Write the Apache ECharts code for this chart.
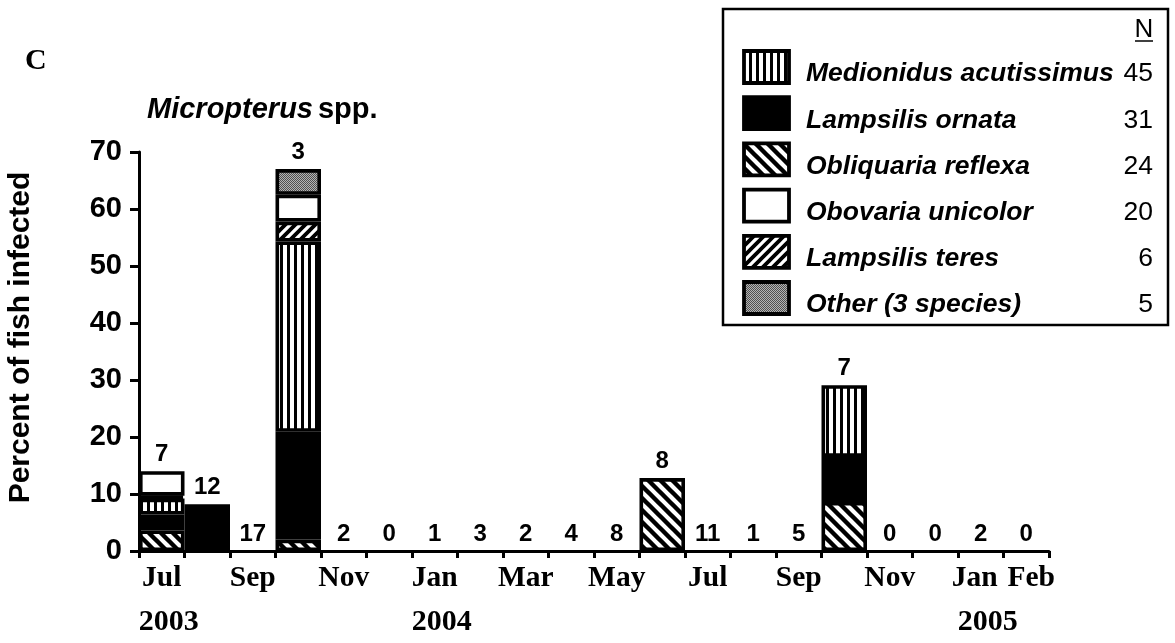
<!DOCTYPE html>
<html><head><meta charset="utf-8">
<script src="https://cdn.jsdelivr.net/npm/echarts@6/dist/echarts.min.js"></script>
<style>html,body{margin:0;padding:0;background:#fff}#c{width:1175px;height:643px}</style>
</head><body><div id="c"></div>
<script>
// ---------- data ----------
const months = ['Jul 2003','Aug 2003','Sep 2003','Oct 2003','Nov 2003','Dec 2003','Jan 2004','Feb 2004','Mar 2004','Apr 2004','May 2004','Jun 2004','Jul 2004','Aug 2004','Sep 2004','Oct 2004','Nov 2004','Dec 2004','Jan 2005','Feb 2005'];
const monthLabels = ['Jul','','Sep','','Nov','','Jan','','Mar','','May','','Jul','','Sep','','Nov','','Jan','Feb'];
const yearLabels = ['2003','','','','','','2004','','','','','','','','','','','','2005',''];
const sampleSize = [7,12,17,3,2,0,1,3,2,4,8,8,11,1,5,7,0,0,2,0];
// percent of fish infected, stacked bottom -> top
const obliquariaReflexa   = [3.6,'-','-',2.0,'-','-','-','-','-','-','-',12.8,'-','-','-',8.6,'-','-','-','-'];
const lampsilisOrnata     = [2.8,8.2,'-',18.9,'-','-','-','-','-','-','-','-','-','-','-',7.9,'-','-','-','-'];
const medionidusAcut      = [2.8,'-','-',33.4,'-','-','-','-','-','-','-','-','-','-','-',12.6,'-','-','-','-'];
const lampsilisTeres      = [0.5,'-','-',3.5,'-','-','-','-','-','-','-','-','-','-','-','-','-','-','-','-'];
const obovariaUnicolor    = [4.3,'-','-',4.7,'-','-','-','-','-','-','-','-','-','-','-','-','-','-','-','-'];
const otherSpecies        = ['-','-','-',4.5,'-','-','-','-','-','-','-','-','-','-','-','-','-','-','-','-'];
const legendNames = ['Medionidus acutissimus','Lampsilis ornata','Obliquaria reflexa','Obovaria unicolor','Lampsilis teres','Other (3 species)'];
const legendN = [45,31,24,20,6,5];

// ---------- patterns ----------
function makePattern(kind){
  if(kind==='solid') return '#000';
  if(kind==='white') return '#fff';
  const c=document.createElement('canvas');
  let s;
  if(kind==='vert'){ c.width=7;c.height=7; const x=c.getContext('2d'); x.fillStyle='#fff';x.fillRect(0,0,7,7); x.fillStyle='#000'; x.fillRect(0,0,3,7); }
  else if(kind==='back'||kind==='fwd'){
    s = kind==='back'?12:10; c.width=s;c.height=s; const x=c.getContext('2d');
    x.fillStyle='#fff';x.fillRect(0,0,s,s); x.strokeStyle='#000'; x.lineWidth= kind==='back'?4.4:3.8;
    x.beginPath();
    for(const o of [-s,0,s]){
      if(kind==='back'){ x.moveTo(o-s,-s); x.lineTo(o+2*s,2*s); }
      else { x.moveTo(o-s,2*s); x.lineTo(o+2*s,-s); }
    }
    x.stroke();
  } else if(kind==='stipple'){
    c.width=2;c.height=2; const x=c.getContext('2d');
    x.fillStyle='#b4b4b4';x.fillRect(0,0,2,2); x.fillStyle='#505050'; x.fillRect(0,0,1,1); x.fillRect(1,1,1,1);
  }
  return {image:c, repeat:'repeat'};
}
const P = {
  med: makePattern('vert'), orn: makePattern('solid'), refl: makePattern('back'),
  uni: makePattern('white'), ter: makePattern('fwd'), oth: makePattern('stipple')
};
const legendFill = [P.med,P.orn,P.refl,P.uni,P.ter,P.oth];

const SANS = 'Liberation Sans, Arial, sans-serif';
const SERIF = 'Liberation Serif, Times New Roman, serif';

function barSeries(name,data,fill){
  return {name, type:'bar', stack:'all', data, barCategoryGap:'0%',
    itemStyle:{color:fill, borderColor:'#000', borderWidth:3.6},
    emphasis:{disabled:true}, silent:true};
}
const totals = months.map((m,i)=>[obliquariaReflexa,lampsilisOrnata,medionidusAcut,lampsilisTeres,obovariaUnicolor,otherSpecies]
  .reduce((a,arr)=>a+(typeof arr[i]==='number'?arr[i]:0),0));

const series = [
  barSeries(legendNames[2], obliquariaReflexa, P.refl),
  barSeries(legendNames[1], lampsilisOrnata, P.orn),
  barSeries(legendNames[0], medionidusAcut, P.med),
  barSeries(legendNames[4], lampsilisTeres, P.ter),
  barSeries(legendNames[3], obovariaUnicolor, P.uni),
  barSeries(legendNames[5], otherSpecies, P.oth),
  {name:'N', type:'bar', data:totals, barGap:'-100%', barCategoryGap:'0%', z:5, silent:true,
   itemStyle:{color:'rgba(0,0,0,0)', borderWidth:0},
   label:{show:true, position:'top', distance:5, formatter:p=>String(sampleSize[p.dataIndex]),
     fontFamily:SANS, fontWeight:'bold', fontSize:24, color:'#000'}}
];

// legend graphics
const legX=723, legY=9, legW=445, legH=316;
const graphics = [{type:'rect', shape:{x:legX,y:legY,width:legW,height:legH}, style:{fill:'#fff',stroke:'#000',lineWidth:2.5}, z:10}];
graphics.push({type:'text', x:1144, y:30, style:{text:'N', font:'26px '+SANS, fill:'#000', align:'center', verticalAlign:'middle'}, z:11});
graphics.push({type:'line', shape:{x1:1135,y1:41,x2:1153,y2:41}, style:{stroke:'#000',lineWidth:1.5}, z:11});
legendNames.forEach((n,i)=>{
  const cy = 67 + i*46.2;
  graphics.push({type:'rect', shape:{x:744,y:cy-16,width:45,height:32}, style:{fill:legendFill[i],stroke:'#000',lineWidth:3.8}, z:11});
  graphics.push({type:'text', x:806, y:cy+7, style:{text:n, font:'italic bold 26.5px '+SANS, fill:'#000', align:'left', verticalAlign:'middle'}, z:11});
  graphics.push({type:'text', x:1153, y:cy+7, style:{text:String(legendN[i]), font:'26.5px '+SANS, fill:'#000', align:'right', verticalAlign:'middle'}, z:11});
});

const monthRich = {
  m:{fontFamily:SERIF, fontWeight:'bold', fontSize:29.5, color:'#000'},
  jl:{fontFamily:SERIF, fontWeight:'bold', fontSize:29.5, color:'#000', padding:[0,12,0,0]},
  fr:{fontFamily:SERIF, fontWeight:'bold', fontSize:29.5, color:'#000', padding:[0,0,0,10]}
};

const chart = echarts.init(document.getElementById('c'), null, {renderer:'canvas'});
chart.setOption({
  animation:false,
  backgroundColor:'#fff',
  title:[
    {text:'C', left:20, top:41, textStyle:{fontFamily:SERIF, fontWeight:'bold', fontSize:30, color:'#000'}},
    {text:'{i|Micropterus} {n|spp.}', left:142, top:90,
     textStyle:{rich:{i:{fontFamily:SANS, fontWeight:'bold', fontStyle:'italic', fontSize:29, color:'#000'},
                      n:{fontFamily:SANS, fontWeight:'bold', fontSize:29, color:'#000'}}}}
  ],
  grid:{left:139, right:126, top:152, bottom:92, containLabel:false, outerBoundsMode:'none'},
  xAxis:[{
    type:'category', data:months, boundaryGap:true,
    axisLine:{lineStyle:{color:'#000', width:3}},
    axisTick:{show:true, interval:0, alignWithLabel:false, length:7, lineStyle:{color:'#000',width:3}},
    axisLabel:{interval:0, margin:12, rich:monthRich,
      formatter:(v,i)=>{ const t=monthLabels[i]; if(!t) return ''; const k = i===18?'jl':(i===19?'fr':'m'); return '{'+k+'|'+t+'}'; }},
    splitLine:{show:false}
  },{
    type:'category', data:months, position:'bottom', offset:46, boundaryGap:true,
    axisLine:{show:false}, axisTick:{show:false}, splitLine:{show:false},
    axisLabel:{interval:0, margin:10, padding:[0,0,0,14], formatter:(v,i)=>yearLabels[i], fontFamily:SERIF, fontWeight:'bold', fontSize:30, color:'#000'}
  }],
  yAxis:{
    type:'value', min:0, max:70, interval:10,
    name:'Percent of fish infected', nameLocation:'middle', nameGap:103,
    nameTextStyle:{fontFamily:SANS, fontWeight:'bold', fontSize:30, color:'#000', padding:[0,0,0,28]},
    axisLine:{show:true, lineStyle:{color:'#000', width:3}},
    axisTick:{show:true, length:9, lineStyle:{color:'#000', width:3}},
    axisLabel:{margin:17, fontFamily:SANS, fontWeight:'bold', fontSize:29, color:'#000'},
    splitLine:{show:false}
  },
  series,
  graphic:graphics
});
</script></body></html>
